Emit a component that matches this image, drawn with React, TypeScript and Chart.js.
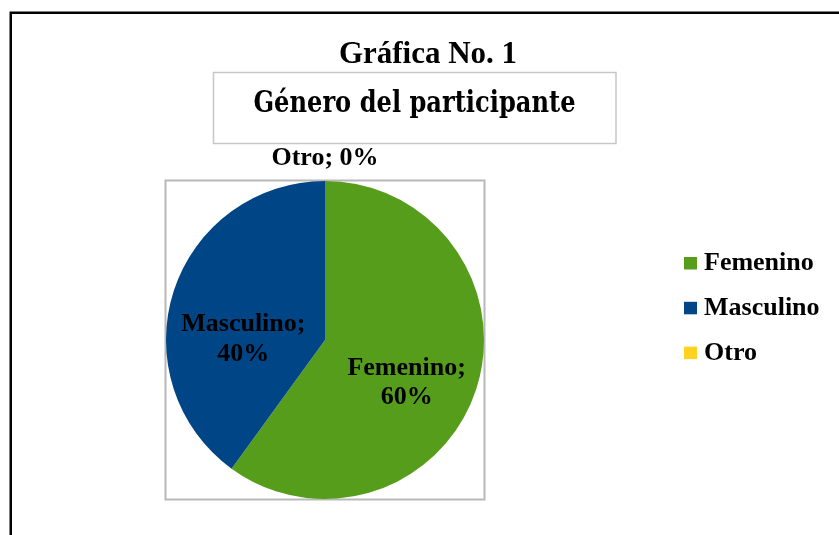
import React, { useEffect, useRef } from "react";
import { Chart, registerables } from "chart.js";

Chart.register(...registerables);

const categories = ["Femenino", "Masculino", "Otro"];
const values = [60, 40, 0];
const colors = ["#579d1c", "#004586", "#ffd320"];
const titleText = "Gráfica No. 1";
const subtitleText = "Género del participante";

const SERIF = '"Liberation Serif", "Times New Roman", serif';

const decor = {
  id: "decor",
  beforeDraw(chart: any) {
    const ctx = chart.ctx as CanvasRenderingContext2D;
    const { width, height } = chart;
    const ca = chart.chartArea;
    ctx.save();
    ctx.fillStyle = "#ffffff";
    ctx.fillRect(0, 0, width, height);

    // outer frame (extends beyond the view)
    ctx.strokeStyle = "#000000";
    ctx.lineWidth = 2.5;
    ctx.strokeRect(10.75, 12.75, width + 20, height + 20);

    // title
    ctx.fillStyle = "#000000";
    ctx.font = `bold 31px ${SERIF}`;
    ctx.textAlign = "center";
    ctx.textBaseline = "alphabetic";
    ctx.fillText(titleText, 428, 63);

    // subtitle box
    ctx.strokeStyle = "#c6c6c6";
    ctx.lineWidth = 1.5;
    ctx.strokeRect(213.5, 72.5, 402.5, 71);

    // subtitle text (condensed serif fitted to width)
    ctx.font = `bold 30px "DejaVu Serif", serif`;
    const w = ctx.measureText(subtitleText).width;
    const target = 322;
    ctx.save();
    ctx.translate(414.5, 112);
    ctx.scale(target / w, 1);
    ctx.textAlign = "center";
    ctx.fillText(subtitleText, 0, 0);
    ctx.restore();

    // plot area box
    ctx.strokeStyle = "#b8b8b8";
    ctx.lineWidth = 2;
    ctx.strokeRect(ca.left - 0.5, ca.top - 0.5, ca.right - ca.left + 1, ca.bottom - ca.top + 1);
    ctx.restore();
  },
  afterDatasetsDraw(chart: any) {
    const ctx = chart.ctx as CanvasRenderingContext2D;
    const meta = chart.getDatasetMeta(0);
    ctx.save();
    ctx.fillStyle = "#000000";
    ctx.textAlign = "center";
    ctx.textBaseline = "alphabetic";
    ctx.font = `bold 26px ${SERIF}`;
    meta.data.forEach((arc: any, i: number) => {
      const p = arc.getProps(["x", "y", "startAngle", "endAngle", "outerRadius"], true);
      const mid = (p.startAngle + p.endAngle) / 2;
      const v = values[i];
      if (v === 0) {
        const x = p.x + Math.cos(mid) * (p.outerRadius + 16);
        const y = p.y + Math.sin(mid) * (p.outerRadius + 16);
        ctx.fillText(`${categories[i]}; ${v}%`, x, y);
      } else {
        const x = p.x + Math.cos(mid) * p.outerRadius * 0.54;
        const y = p.y + Math.sin(mid) * p.outerRadius * 0.44 + 19;
        ctx.fillText(`${categories[i]};`, x, y - 6);
        ctx.fillText(`${v}%`, x, y + 23.5);
      }
    });

    // legend
    const lx = 684;
    const baseY = 270;
    const gap = 44.8;
    ctx.textAlign = "left";
    categories.forEach((c, i) => {
      const by = baseY + i * gap;
      ctx.fillStyle = colors[i];
      ctx.fillRect(lx, by - 13, 13, 12.5);
      ctx.fillStyle = "#000000";
      ctx.fillText(c, lx + 20, by);
    });
    ctx.restore();
  },
};

export default function App() {
  const ref = useRef<HTMLCanvasElement | null>(null);
  useEffect(() => {
    document.body.style.margin = "0";
    const chart = new Chart(ref.current as HTMLCanvasElement, {
      type: "pie",
      data: {
        labels: categories,
        datasets: [
          {
            data: values,
            backgroundColor: colors,
            borderWidth: 0,
          },
        ],
      },
      options: {
        responsive: false,
        animation: false,
        devicePixelRatio: 1,
        layout: { padding: { left: 166, right: 355, top: 181, bottom: 36 } },
        plugins: {
          legend: { display: false },
          title: { display: false },
          tooltip: { enabled: false },
        },
      },
      plugins: [decor],
    });
    return () => chart.destroy();
  }, []);
  return (
    <div style={{ position: "absolute", left: 0, top: 0, width: 839, height: 535 }}>
      <canvas ref={ref} width={839} height={535} />
    </div>
  );
}
